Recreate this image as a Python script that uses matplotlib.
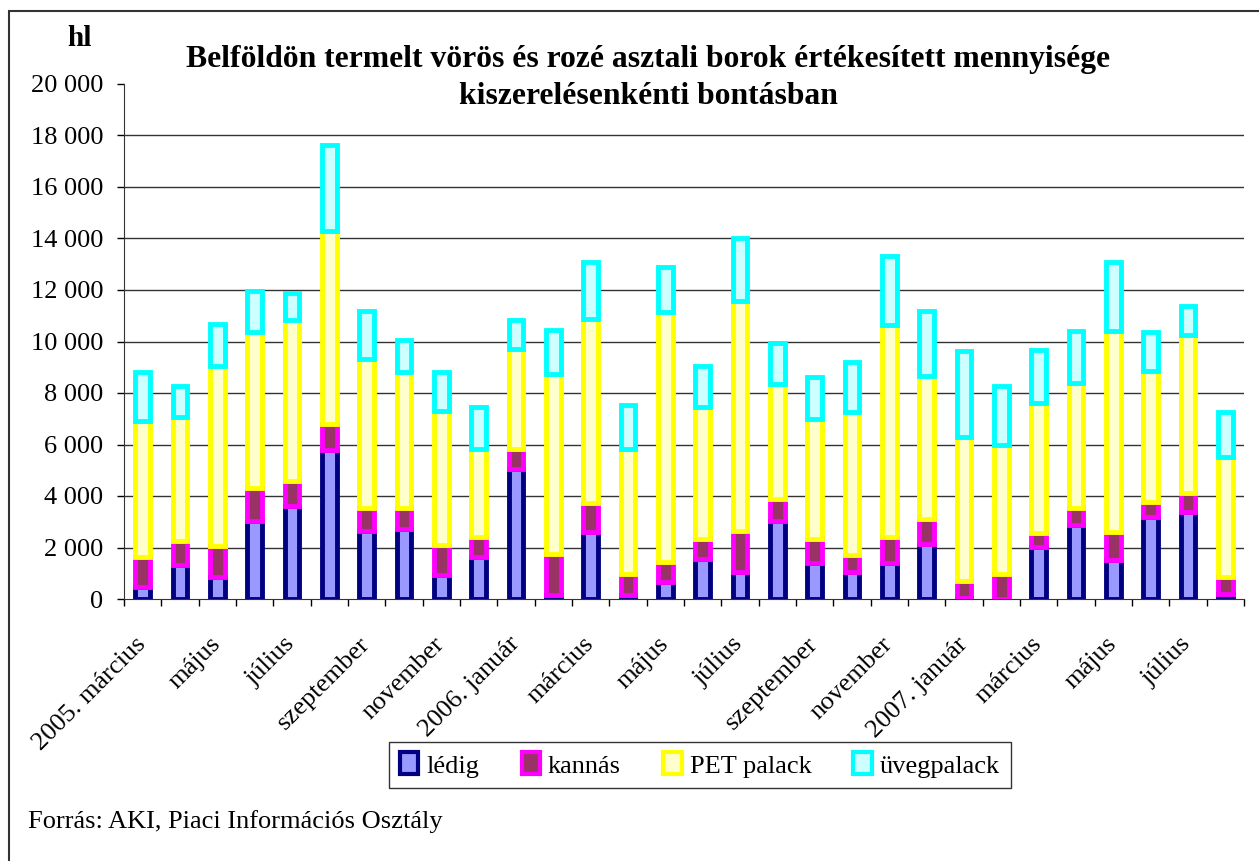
import numpy as np
import matplotlib
matplotlib.use('Agg')
import matplotlib.pyplot as plt
from matplotlib.patches import Patch, Rectangle
from matplotlib.ticker import FuncFormatter

plt.rcParams['font.family'] = ['Liberation Serif', 'DejaVu Serif']

# 2005. március ... 2007. augusztus (monthly), hl
months = ['2005. március', 'április', 'május', 'június', 'július', 'augusztus',
          'szeptember', 'október', 'november', 'december',
          '2006. január', 'február', 'március', 'április', 'május', 'június',
          'július', 'augusztus', 'szeptember', 'október', 'november', 'december',
          '2007. január', 'február', 'március', 'április', 'május', 'június',
          'július', 'augusztus']

ledig = [480, 1320, 840, 3010, 3610, 5790, 2640, 2710, 930, 1620,
         5050, 150, 2620, 150, 670, 1540, 1060, 3010, 1410, 1060,
         1390, 2140, 20, 10, 2030, 2880, 1520, 3200, 3360, 180]
kannas = [1140, 950, 1220, 1320, 980, 990, 910, 840, 1170, 800,
          770, 1590, 1100, 810, 780, 780, 1600, 880, 910, 650,
          1030, 960, 690, 950, 550, 650, 1100, 550, 770, 690]
pet = [5280, 4780, 7000, 6050, 6260, 7530, 5770, 5260, 5210, 3410,
       3890, 7010, 7150, 4870, 9700, 5130, 8900, 4460, 4680, 5550,
       8230, 5570, 5600, 5030, 5030, 4860, 7800, 5090, 6130, 4660]
uveg = [1900, 1240, 1630, 1570, 1030, 3330, 1880, 1250, 1500, 1620,
        1140, 1710, 2210, 1710, 1730, 1580, 2460, 1590, 1610, 1930,
        2660, 2530, 3330, 2300, 2070, 2030, 2660, 1520, 1110, 1750]

series_names = ['lédig', 'kannás', 'PET palack', 'üvegpalack']
face_colors = ['#9999FF', '#993366', '#FFFFCC', '#CCFFFF']
edge_colors = ['#000080', '#FF00FF', '#FFFF00', '#00FFFF']

fig = plt.figure(figsize=(12.59, 8.61), dpi=100)
ax = fig.add_axes([124 / 1259, 1 - 599 / 861, 1120 / 1259, 515 / 861])

x = np.arange(len(months))
bottom = np.zeros(len(months))
for vals, fc, ec in zip([ledig, kannas, pet, uveg], face_colors, edge_colors):
    ax.bar(x, vals, width=0.4, bottom=bottom, color=fc, edgecolor=ec,
           linewidth=3.5, zorder=3)
    bottom += np.array(vals)

ax.set_xlim(-0.5, len(months) - 0.5)
ax.set_ylim(0, 20000)
yt = np.arange(0, 20001, 2000)
ax.set_yticks(yt)
ax.yaxis.set_major_formatter(FuncFormatter(lambda v, p: f'{int(v):,}'.replace(',', ' ')))
for v in yt[1:-1]:
    ax.axhline(v, color='#333333', lw=1, zorder=1)

ax.set_xticks(x[::2])
ax.set_xticklabels(months[::2], rotation=45, ha='right', va='center',
                   rotation_mode='anchor')
ax.set_xticks(np.arange(-0.5, len(months), 1), minor=True)
ax.tick_params(axis='x', which='major', length=0, pad=30, labelsize=19)
ax.tick_params(axis='x', which='minor', length=5, width=1, direction='out')
ax.tick_params(axis='y', length=5, width=1, direction='out', labelsize=19, pad=10)

for s in ['top', 'right']:
    ax.spines[s].set_visible(False)
ax.spines['left'].set_color('#333333')
ax.spines['bottom'].set_color('#333333')

fig.text(80 / 1259, 1 - 38 / 861, 'hl', fontsize=21, fontweight='bold',
         ha='center', va='center')
fig.text(648 / 1259, 1 - 59 / 861,
         'Belföldön termelt vörös és rozé asztali borok értékesített mennyisége',
         fontsize=22.8, fontweight='bold', ha='center', va='center')
fig.text(648 / 1259, 1 - 97 / 861, 'kiszerelésenkénti bontásban',
         fontsize=22.8, fontweight='bold', ha='center', va='center')

handles = [Patch(facecolor=fc, edgecolor=ec, linewidth=3, label=n)
           for n, fc, ec in zip(series_names, face_colors, edge_colors)]
leg = fig.legend(handles=handles, ncol=4, loc='center',
                 bbox_to_anchor=(700 / 1259, 1 - 765 / 861), fontsize=19,
                 frameon=True, fancybox=False, handlelength=0.7, handleheight=0.9,
                 handletextpad=0.3, columnspacing=1.6, borderpad=0.4)
leg.get_frame().set_edgecolor('black')
leg.get_frame().set_linewidth(1)

fig.text(28 / 1259, 1 - 822 / 861, 'Forrás: AKI, Piaci Információs Osztály',
         fontsize=19, ha='left', va='center')

fig.patches.append(Rectangle((9 / 1259, -0.1), 1.2, 1.1 - 11 / 861, fill=False,
                             edgecolor='#333333', lw=1.5,
                             transform=fig.transFigure, figure=fig))

fig.savefig('out.png', dpi=100)
